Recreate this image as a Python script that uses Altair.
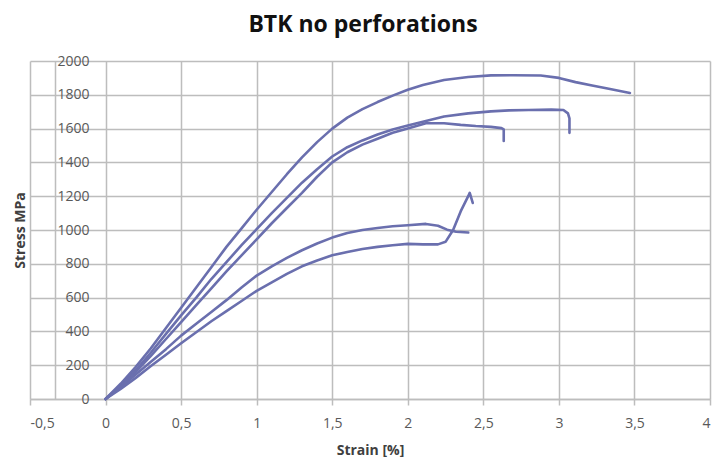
import altair as alt
import pandas as pd

# Series A (highest curve, ends near 3.47 %)
a_strain = [0, 0.1, 0.2, 0.3, 0.4, 0.5, 0.6, 0.7, 0.8, 0.9, 1.0, 1.1, 1.2, 1.3, 1.4, 1.5, 1.6, 1.7,
            1.8, 1.9, 2.0, 2.1, 2.24, 2.4, 2.55, 2.7, 2.88, 3.0, 3.11, 3.22, 3.33, 3.47]
a_stress = [0, 90, 190, 300, 420, 540, 660, 780, 900, 1010, 1120, 1225, 1330, 1430, 1520, 1600, 1665, 1715,
            1757, 1795, 1830, 1858, 1888, 1905, 1915, 1916, 1914, 1900, 1875, 1855, 1836, 1811]

# Series B (ends near 3.07 %)
b_strain = [0, 0.1, 0.2, 0.3, 0.4, 0.5, 0.6, 0.7, 0.8, 0.9, 1.0, 1.1, 1.2, 1.3, 1.4, 1.5, 1.6, 1.7,
            1.8, 1.9, 2.0, 2.12, 2.24, 2.4, 2.55, 2.67, 2.8, 2.95, 3.03, 3.06, 3.07, 3.07]
b_stress = [0, 80, 170, 275, 385, 495, 600, 710, 810, 910, 1005, 1100, 1190, 1280, 1360, 1435, 1490, 1530,
            1565, 1595, 1618, 1645, 1672, 1690, 1702, 1708, 1710, 1712, 1710, 1690, 1660, 1575]

# Series C (ends near 2.64 %)
c_strain = [0, 0.1, 0.2, 0.3, 0.4, 0.5, 0.6, 0.7, 0.8, 0.9, 1.0, 1.1, 1.2, 1.3, 1.4, 1.5, 1.6, 1.7,
            1.8, 1.9, 2.0, 2.12, 2.24, 2.35, 2.45, 2.55, 2.62, 2.635, 2.635]
c_stress = [0, 75, 160, 255, 355, 455, 555, 655, 755, 850, 945, 1040, 1130, 1220, 1315, 1400, 1460, 1505,
            1540, 1575, 1600, 1632, 1632, 1622, 1615, 1610, 1603, 1595, 1527]

# Series D (peaks near 1035 MPa)
d_strain = [0, 0.1, 0.2, 0.3, 0.4, 0.5, 0.6, 0.7, 0.8, 0.9, 1.0, 1.1, 1.2, 1.3, 1.4, 1.5, 1.6, 1.7,
            1.8, 1.9, 2.0, 2.12, 2.2, 2.26, 2.32, 2.40]
d_stress = [0, 70, 145, 220, 295, 375, 445, 515, 585, 660, 730, 785, 835, 880, 920, 955, 982, 1000,
            1012, 1022, 1028, 1036, 1025, 1002, 990, 985]

# Series E (flat near 915 MPa then sharp rise)
e_strain = [0, 0.1, 0.2, 0.3, 0.4, 0.5, 0.6, 0.7, 0.8, 0.9, 1.0, 1.1, 1.2, 1.3, 1.4, 1.5, 1.6, 1.7,
            1.8, 1.9, 2.0, 2.1, 2.2, 2.25, 2.3, 2.35, 2.4, 2.41, 2.43]
e_stress = [0, 60, 125, 195, 262, 330, 395, 460, 520, 580, 640, 690, 740, 785, 820, 850, 870, 888,
            900, 910, 918, 915, 915, 930, 1000, 1110, 1200, 1220, 1160]

series = [("A", a_strain, a_stress), ("B", b_strain, b_stress), ("C", c_strain, c_stress),
          ("D", d_strain, d_stress), ("E", e_strain, e_stress)]

x_ticks = [-0.5, 0, 0.5, 1, 1.5, 2, 2.5, 3, 3.5, 4]
y_ticks = [0, 200, 400, 600, 800, 1000, 1200, 1400, 1600, 1800, 2000]

rows = []
for name, xs, ys in series:
    for i, (xv, yv) in enumerate(zip(xs, ys)):
        rows.append({"series": name, "i": i, "strain": xv, "stress": yv})
df = pd.DataFrame(rows)

LINE = "#6a6fae"
GRID = "#bdbdbd"
LABEL = "#595959"
FONT = "Open Sans"

chart = alt.Chart(df).mark_line(
    color=LINE, strokeWidth=2.6, strokeJoin="round", strokeCap="round"
).encode(
    x=alt.X(
        "strain:Q",
        scale=alt.Scale(domain=[-0.5, 4], nice=False, zero=False),
        axis=alt.Axis(
            values=x_ticks,
            title="Strain [%]",
            labelExpr="replace(toString(datum.value), '.', ',')",
            labelFontSize=14, labelColor=LABEL, labelFont=FONT,
            labelPadding=11, tickSize=6, tickColor=GRID, tickWidth=1.5,
            domainColor=GRID, domainWidth=1.5,
            gridColor=GRID, gridWidth=1.5,
            titleFont=FONT, titleFontSize=14, titleFontWeight="bold", titleColor="#404040",
            titleBaseline="middle", titleY=51,
        ),
    ),
    y=alt.Y(
        "stress:Q",
        scale=alt.Scale(domain=[0, 2000], nice=False),
        axis=alt.Axis(
            values=y_ticks,
            format="d",
            title="Stress MPa",
            offset=-25,
            ticks=False, tickSize=0,
            labelPadding=-34, labelAlign="right", labelBaseline="middle",
            labelFontSize=14, labelColor=LABEL, labelFont=FONT,
            domainColor=GRID, domainWidth=1.5,
            gridColor=GRID, gridWidth=1.5,
            titleFont=FONT, titleFontSize=14, titleFontWeight="bold", titleColor="#404040",
            titleBaseline="middle", titleAlign="center", titleX=-35, titleY=169,
        ),
    ),
    detail="series:N",
    order="i:Q",
).properties(
    width=680,
    height=338,
    title=alt.TitleParams(
        "BTK no perforations", font=FONT, fontSize=23, fontWeight="bold",
        color="#111111", anchor="middle", dx=-7, offset=17,
    ),
    autosize=alt.AutoSizeParams(type="none"),
    padding={"left": 22, "top": 53, "right": 3, "bottom": 58},
).configure_view(strokeWidth=0)

chart.save("out.html", embed_options={"renderer": "svg", "actions": False})
